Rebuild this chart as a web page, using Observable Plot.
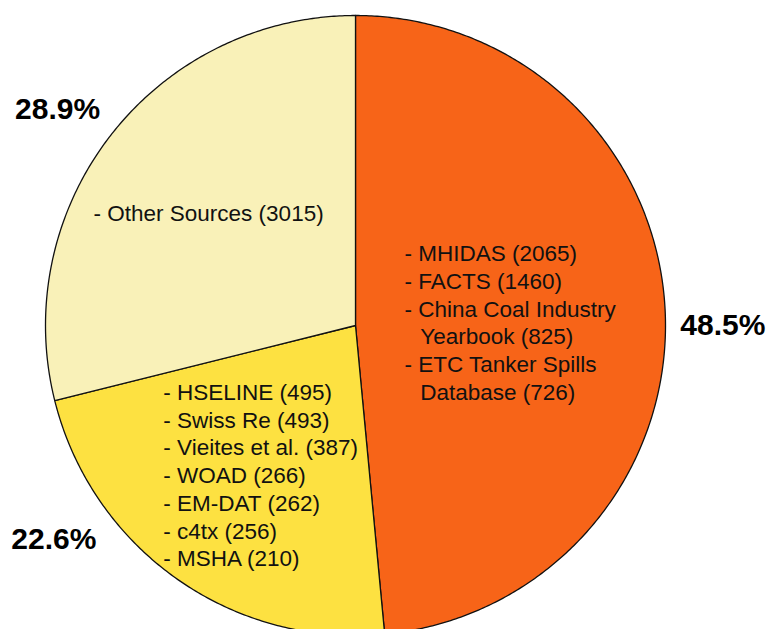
<!DOCTYPE html>
<html>
<head>
<meta charset="utf-8">
<script src="https://cdn.jsdelivr.net/npm/d3@7"></script>
<script src="https://cdn.jsdelivr.net/npm/@observablehq/plot@0.6"></script>
<style>
  html, body { margin: 0; padding: 0; background: #fff; }
  #chart svg { display: block; }
</style>
</head>
<body>
<div id="chart"></div>
<script>
// ---------- data ----------
const sliceNames = ["Major databases", "Smaller databases", "Other"];
const slicePercents = [48.5, 22.6, 28.9];
const percentLabels = ["48.5%", "22.6%", "28.9%"];

const majorSources = ["MHIDAS", "FACTS", "China Coal Industry\nYearbook", "ETC Tanker Spills\nDatabase"];
const majorCounts = [2065, 1460, 825, 726];

const smallerSources = ["HSELINE", "Swiss Re", "Vieites et al.", "WOAD", "EM-DAT", "c4tx", "MSHA"];
const smallerCounts = [495, 493, 387, 266, 262, 256, 210];

const otherSources = ["Other Sources"];
const otherCounts = [3015];

// ---------- layout / style ----------
const W = 768, H = 629;
const CX = 355, CY = 325, R = 310;            // pie centre and radius in pixels
const colors = ["#F76418", "#FDE141", "#F9F1B8"];
const listAnchor = [[0.158, 0.013], [-0.620, -0.480], [-0.845, 0.365]];   // in radius units
const pctAnchor  = [[1.185, 0.0], [-0.973, -0.690], [-0.961, 0.697]];
const FONT = "'Liberation Sans', Arial, Helvetica, sans-serif";

// ---------- build ----------
const sourceLists = [
  [majorSources, majorCounts],
  [smallerSources, smallerCounts],
  [otherSources, otherCounts]
];
const indent = "\u2002\u2009";
function listText([names, counts]) {
  return names.map((n, i) => {
    const parts = n.split("\n");
    parts[parts.length - 1] += ` (${counts[i]})`;
    return parts.map((p, j) => (j === 0 ? "- " : indent) + p).join("\n");
  }).join("\n");
}

const slices = sliceNames.map((name, i) => ({name, pct: slicePercents[i], i}));
const arcs = d3.pie().sort(null).value(d => d.pct)(slices);

const polys = arcs.map((a, i) => {
  const pts = [{x: 0, y: 0}];
  const n = Math.max(2, Math.ceil((a.endAngle - a.startAngle) / (Math.PI / 360)));
  for (let k = 0; k <= n; k++) {
    const t = a.startAngle + (a.endAngle - a.startAngle) * k / n;
    pts.push({x: Math.sin(t), y: Math.cos(t)});
  }
  return pts;
});

const listData = slices.map((s, i) => ({
  x: listAnchor[i][0], y: listAnchor[i][1], text: listText(sourceLists[i])
}));
const pctData = slices.map((s, i) => ({
  x: pctAnchor[i][0], y: pctAnchor[i][1], text: percentLabels[i]
}));

const chart = Plot.plot({
  width: W,
  height: H,
  margin: 0,
  style: {background: "#fff", fontFamily: FONT},
  x: {domain: [-CX / R, (W - CX) / R], axis: null},
  y: {domain: [-(H - CY) / R, CY / R], axis: null},
  marks: [
    ...polys.map((pts, i) => Plot.line(pts, {
      x: "x", y: "y", curve: "linear-closed",
      fill: colors[i], stroke: "#111", strokeWidth: 1.3, strokeLinejoin: "round"
    })),
    Plot.text(listData, {
      x: "x", y: "y", text: "text", textAnchor: "start", lineAnchor: "middle",
      fontSize: 22.5, lineHeight: 1.23, fill: "#111", fontFamily: FONT
    }),
    Plot.text(pctData, {
      x: "x", y: "y", text: "text", textAnchor: "middle", lineAnchor: "middle",
      fontSize: 30, fontWeight: "bold", fill: "#000", fontFamily: FONT
    })
  ]
});
document.getElementById("chart").appendChild(chart);
</script>
</body>
</html>
